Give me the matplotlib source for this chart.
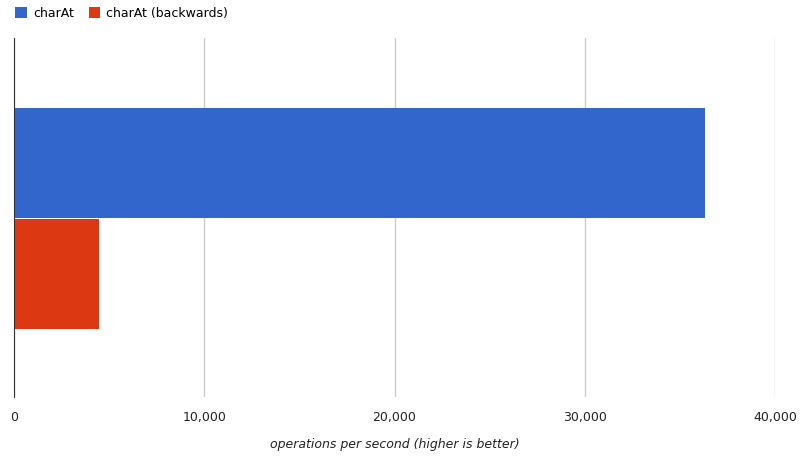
import matplotlib.pyplot as plt
from matplotlib.ticker import FuncFormatter

series = ["charAt", "charAt (backwards)"]
values = [36300, 4470]
colors = ["#3366cc", "#dc3912"]

fig = plt.figure(figsize=(8, 4.62), dpi=100)
ax = fig.add_axes([14/800, 1-397/462, 761/800, (397-38)/462])

h = 110/359*4  # bar height in data units of ylim 0..4
ax.set_ylim(0, 4)
ax.barh([4-(108+55-38)/359*4], [values[0]], height=h, color=colors[0], label=series[0])
ax.barh([4-(219+55-38)/359*4], [values[1]], height=h, color=colors[1], label=series[1])

ax.set_xlim(0, 40000)
ax.set_xticks([0, 10000, 20000, 30000, 40000])
ax.xaxis.set_major_formatter(FuncFormatter(lambda v, p: f"{int(v):,}"))
ax.set_yticks([])
ax.grid(axis="x", color="#cccccc", linewidth=1)
ax.set_axisbelow(True)
for s in ["top", "right", "bottom"]:
    ax.spines[s].set_visible(False)
ax.spines["left"].set_color("#333333")
ax.tick_params(axis="x", length=0, labelsize=9, colors="#222222", pad=10)
ax.set_xlabel("operations per second (higher is better)", fontsize=9, style="italic", color="#222222", labelpad=10)

fig.legend(loc="upper left", bbox_to_anchor=(0.005, 1.01), ncol=2, frameon=False,
           fontsize=9, handlelength=0.9, handleheight=0.9, columnspacing=1.2, handletextpad=0.5)

fig.savefig("out.png")
